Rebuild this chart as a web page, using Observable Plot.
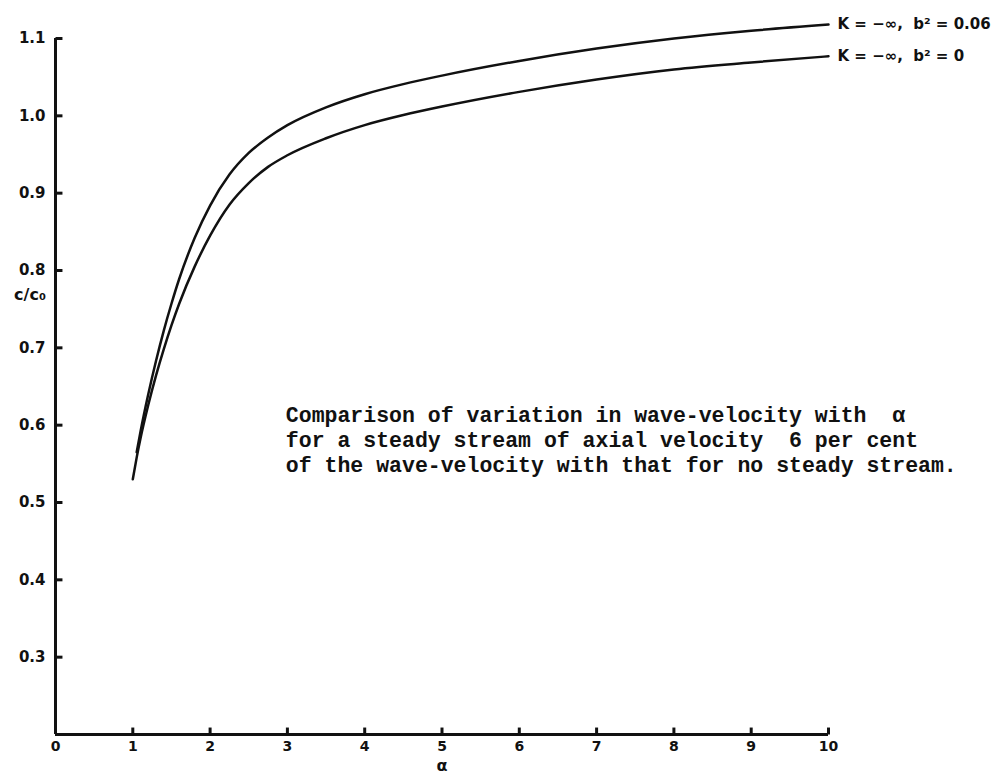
<!DOCTYPE html>
<html><head><meta charset="utf-8">
<script src="https://cdn.jsdelivr.net/npm/d3@7"></script>
<script src="https://cdn.jsdelivr.net/npm/@observablehq/plot@0.6"></script>
<style>body{margin:0;background:#fff}</style>
</head><body><div id="chart"></div>
<script>
// c/c0 versus alpha, K = -inf
const alphaUpper = [1.05, 1.1, 1.2, 1.3, 1.4, 1.5, 1.6, 1.8, 2.0, 2.25, 2.5, 2.75, 3.0, 3.5, 4.0, 4.5, 5.0, 6.0, 7.0, 8.0, 9.0, 10.0];
const cUpper     = [0.565, 0.592, 0.64, 0.683, 0.722, 0.757, 0.789, 0.842, 0.884, 0.924, 0.952, 0.972, 0.988, 1.011, 1.028, 1.041, 1.052, 1.071, 1.087, 1.100, 1.110, 1.118];
const alphaLower = [1.0, 1.05, 1.1, 1.2, 1.3, 1.4, 1.5, 1.6, 1.8, 2.0, 2.25, 2.5, 2.75, 3.0, 3.5, 4.0, 4.5, 5.0, 6.0, 7.0, 8.0, 9.0, 10.0];
const cLower     = [0.53, 0.558, 0.583, 0.626, 0.664, 0.698, 0.729, 0.757, 0.805, 0.845, 0.885, 0.913, 0.934, 0.949, 0.971, 0.988, 1.001, 1.012, 1.031, 1.047, 1.06, 1.069, 1.077];
const xTicks = [0, 1, 2, 3, 4, 5, 6, 7, 8, 9, 10];
const yTicks = [0.3, 0.4, 0.5, 0.6, 0.7, 0.8, 0.9, 1.0, 1.1];
const seriesLabels = ["K = \u2212\u221E,  b\u00B2 = 0.06", "K = \u2212\u221E,  b\u00B2 = 0"];
const yLabel = "c/c\u2080";
const xLabel = "\u03B1";
const note = "Comparison of variation in wave-velocity with  \u03B1\nfor a steady stream of axial velocity  6 per cent\nof the wave-velocity with that for no steady stream.";

const upper = alphaUpper.map((a, i) => ({a, c: cUpper[i]}));
const lower = alphaLower.map((a, i) => ({a, c: cLower[i]}));
const ends = [
  {a: alphaUpper[alphaUpper.length - 1], c: cUpper[cUpper.length - 1], label: seriesLabels[0]},
  {a: alphaLower[alphaLower.length - 1], c: cLower[cLower.length - 1], label: seriesLabels[1]}
];
const ink = "#111";
const font = "'DejaVu Sans', sans-serif";

const chart = Plot.plot({
  width: 1005, height: 776,
  marginLeft: 55, marginRight: 177, marginTop: 38, marginBottom: 42,
  x: {domain: [0, 10]},
  y: {domain: [0.2, 1.1]},
  style: {fontFamily: font, background: "#fff", color: ink},
  marks: [
    Plot.ruleY([0.2], {x1: 0, x2: 10, stroke: ink, strokeWidth: 3}),
    Plot.ruleX([0], {y1: 0.2, y2: 1.1, stroke: ink, strokeWidth: 3}),
    Plot.link(xTicks.slice(1), {x1: d => d, x2: d => d, y1: 0.2, y2: 0.209, stroke: ink, strokeWidth: 3}),
    Plot.link(yTicks, {y1: d => d, y2: d => d, x1: 0, x2: 0.09, stroke: ink, strokeWidth: 3}),
    Plot.axisX({ticks: xTicks, tickSize: 0, tickPadding: 7, tickFormat: d => String(d), fontSize: 14, fontWeight: "bold", label: null}),
    Plot.text([xLabel], {x: 5, frameAnchor: "bottom", lineAnchor: "top", dy: 25, text: d => d, fontSize: 16, fontWeight: "bold", fill: ink}),
    Plot.axisY({ticks: yTicks, tickSize: 0, tickPadding: 10, tickFormat: d3.format(".1f"), fontSize: 15, fontWeight: "bold", label: null}),
    Plot.text([yLabel], {x: -0.33, y: 0.768, text: d => d, fontSize: 16, fontWeight: "bold", fill: ink}),
    Plot.line(upper, {x: "a", y: "c", curve: "monotone-x", stroke: ink, strokeWidth: 2.5}),
    Plot.line(lower, {x: "a", y: "c", curve: "monotone-x", stroke: ink, strokeWidth: 2.5}),
    Plot.text(ends, {x: "a", y: "c", text: "label", textAnchor: "start", dx: 9, fontSize: 15, fontWeight: "bold", fill: ink}),
    Plot.text([note], {x: 2.98, y: 0.627, text: d => d, textAnchor: "start", lineAnchor: "top", lineHeight: 1.17,
      fontFamily: "'Liberation Mono', monospace", fontSize: 21.5, fontWeight: "bold", fill: ink})
  ]
});
document.getElementById("chart").append(chart);
</script>
</body></html>
